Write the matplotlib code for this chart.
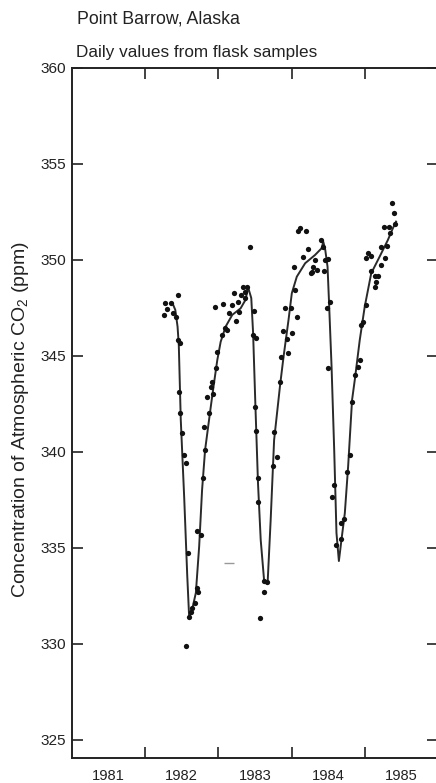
import matplotlib
matplotlib.use("Agg")
import matplotlib.pyplot as plt
from matplotlib import font_manager

# --- data (decimal year, ppm) ---
flask_year = [
    1982.271, 1982.353, 1982.442, 1982.299, 1982.262, 1982.374, 1982.421,
    1982.442, 1982.479, 1982.465, 1982.479, 1982.502, 1982.524, 1982.556,
    1982.578, 1982.592, 1982.564, 1982.624, 1982.646, 1982.678, 1982.706,
    1982.723, 1982.714, 1982.768, 1982.791, 1982.818, 1982.805, 1982.872,
    1982.849, 1982.931, 1982.896, 1982.909, 1982.963, 1982.977, 1983.053,
    1983.121, 1983.090, 1983.144, 1982.954, 1983.062, 1983.235, 1983.189,
    1983.212, 1983.270, 1983.303, 1983.334, 1983.392, 1983.370, 1983.357,
    1983.429, 1983.280, 1983.483, 1983.474, 1983.514, 1983.506, 1983.520,
    1983.537, 1983.541, 1983.619, 1983.663, 1983.619, 1983.574,
    1983.741, 1983.799, 1983.764, 1983.836, 1983.859, 1983.948, 1983.938,
    1983.877, 1984.003, 1983.904, 1983.992, 1984.077, 1984.043, 1984.026,
    1984.152, 1984.229, 1984.121, 1984.084, 1984.202, 1984.320, 1984.297,
    1984.274, 1984.342, 1984.266, 1984.406, 1984.433, 1984.501, 1984.456,
    1984.446, 1984.524, 1984.478, 1984.501, 1984.582, 1984.555, 1984.602,
    1984.673, 1984.673, 1984.718, 1984.763, 1984.795, 1984.822, 1984.863,
    1984.908, 1984.928, 1984.953, 1984.976, 1985.020, 1985.043, 1985.016,
    1985.080, 1985.088, 1985.143, 1985.183, 1985.156, 1985.134, 1985.216,
    1985.278, 1985.224, 1985.308, 1985.265, 1985.332, 1985.406, 1985.351,
    1985.400, 1985.376,
]
flask_ppm = [
    347.74, 347.74, 348.18, 347.43, 347.14, 347.22, 347.05,
    345.83, 345.66, 343.14, 342.05, 340.97, 339.84, 339.41,
    334.74, 331.39, 329.90, 331.68, 331.86, 332.12, 332.90,
    332.72, 335.90, 335.68, 338.63, 340.10, 341.32, 342.05,
    342.88, 343.02, 343.40, 343.66, 344.36, 345.22, 346.09,
    346.35, 346.44, 347.22, 347.57, 347.69, 346.82, 347.66,
    348.30, 347.83, 348.18, 348.61, 348.61, 348.35, 348.01,
    350.69, 347.31, 347.36, 346.09, 345.95, 342.36, 341.11,
    338.63, 337.41, 333.30, 333.24, 332.69, 331.35,
    339.29, 339.76, 341.06, 343.66, 344.96, 345.17, 345.89,
    346.32, 346.22, 347.48, 347.48, 347.01, 348.44, 349.62,
    350.14, 350.55, 351.69, 351.53, 351.51, 350.00, 349.65,
    349.39, 349.48, 349.31, 351.02, 350.69, 350.03, 350.00,
    349.41, 347.79, 347.48, 344.36, 338.28, 337.68, 335.13,
    335.48, 336.30, 336.53, 338.98, 339.82, 342.60, 344.01,
    344.43, 344.79, 346.59, 346.77, 347.66, 350.38, 350.09,
    350.23, 349.45, 349.19, 349.15, 348.87, 348.59, 349.74,
    350.12, 350.69, 350.73, 351.73, 351.72, 351.87, 351.43,
    352.43, 352.98,
]

fit_year = [
    1982.374, 1982.411, 1982.442, 1982.459, 1982.486, 1982.533, 1982.574,
    1982.601, 1982.646, 1982.692, 1982.737, 1982.777, 1982.818, 1982.896,
    1982.940, 1982.985, 1983.031, 1983.099, 1983.189, 1983.303, 1983.370,
    1983.406, 1983.449, 1983.474, 1983.506, 1983.541, 1983.578, 1983.626,
    1983.673, 1983.714, 1983.761, 1983.843, 1983.890, 1983.958, 1984.003,
    1984.071, 1984.185, 1984.320, 1984.410, 1984.433, 1984.460, 1984.491,
    1984.510, 1984.546, 1984.582, 1984.613, 1984.646, 1984.681, 1984.727,
    1984.772, 1984.826, 1984.863, 1984.931, 1984.999, 1985.088, 1985.202,
    1985.315, 1985.383, 1985.427,
]
fit_ppm = [
    347.74, 347.40, 346.53, 345.57, 341.67, 337.60, 333.59,
    331.35, 331.88, 332.66, 335.07, 338.02, 340.10, 342.36,
    343.59, 344.79, 345.74, 346.53, 347.14, 347.48, 347.92,
    348.57, 348.02, 346.20, 342.36, 338.37, 335.42, 333.23,
    333.23, 336.46, 340.62, 343.49, 344.96, 346.88, 348.27,
    349.13, 349.83, 350.26, 350.61, 350.95, 350.52, 349.65,
    347.92, 344.44, 340.10, 335.78, 334.32, 335.42, 336.81,
    339.23, 342.71, 343.75, 345.83, 347.57, 349.31, 350.17,
    351.04, 351.65, 352.00,
]

# faint stray mark in the scan
stray_year = [1983.144]
stray_ppm = [334.22]

y_ticks = [325, 330, 335, 340, 345, 350, 355, 360]
year_bounds = [1982, 1983, 1984, 1985]
year_centres = [1981.5, 1982.5, 1983.5, 1984.5, 1985.5]
year_labels = ["1981", "1982", "1983", "1984", "1985"]

names = {f.name for f in font_manager.fontManager.ttflist}
if "Liberation Sans Narrow" in names:
    FONT, K = "Liberation Sans Narrow", 1.0
else:
    FONT, K = "Liberation Sans", 0.85

plt.rcParams["font.family"] = [FONT, "DejaVu Sans"]
plt.rcParams["mathtext.fontset"] = "custom"
plt.rcParams["mathtext.rm"] = FONT
plt.rcParams["mathtext.it"] = FONT
INK = "#222222"

fig = plt.figure(figsize=(4.36, 7.83), dpi=100)
ax = fig.add_axes([72 / 436, 25 / 783, 366 / 436, 690 / 783])

ax.plot(fit_year, fit_ppm, color="#2a2a2a", lw=1.4, zorder=2)
ax.plot(flask_year, flask_ppm, "o", color="#111111", ms=3.8, mew=0, zorder=3)
ax.plot(stray_year, stray_ppm, "_", color="#999999", ms=7, mew=1.0, zorder=1)

ax.set_xlim(1981, 1986)
ax.set_ylim(324.06, 360)

for s in ax.spines.values():
    s.set_linewidth(1.4)
    s.set_color(INK)

ax.set_yticks(y_ticks)
ax.set_yticklabels([str(v) for v in y_ticks])
ax.tick_params(axis="y", which="major", direction="in", length=8, width=1.2,
               right=True, labelsize=13 * K, pad=4, colors=INK)

ax.set_xticks(year_bounds)
ax.set_xticklabels([])
ax.set_xticks(year_centres, minor=True)
ax.set_xticklabels(year_labels, minor=True)
ax.tick_params(axis="x", which="major", direction="in", length=8, width=1.2,
               top=True, colors=INK)
ax.tick_params(axis="x", which="minor", length=0, labelsize=12.5 * K,
               pad=8, colors=INK)

ax.set_ylabel("Concentration of Atmospheric CO$_2$ (ppm)", fontsize=16.5 * K,
              color=INK)
ax.yaxis.set_label_coords(-0.112, 0.49)

fig.text(77 / 436, 1 - 23 / 783, "Point Barrow, Alaska", fontsize=15 * K,
         color=INK, ha="left", va="baseline")
fig.text(76 / 436, 1 - 57 / 783, "Daily values from flask samples",
         fontsize=14.5 * K, color=INK, ha="left", va="baseline")

fig.savefig("out.png", dpi=100)
